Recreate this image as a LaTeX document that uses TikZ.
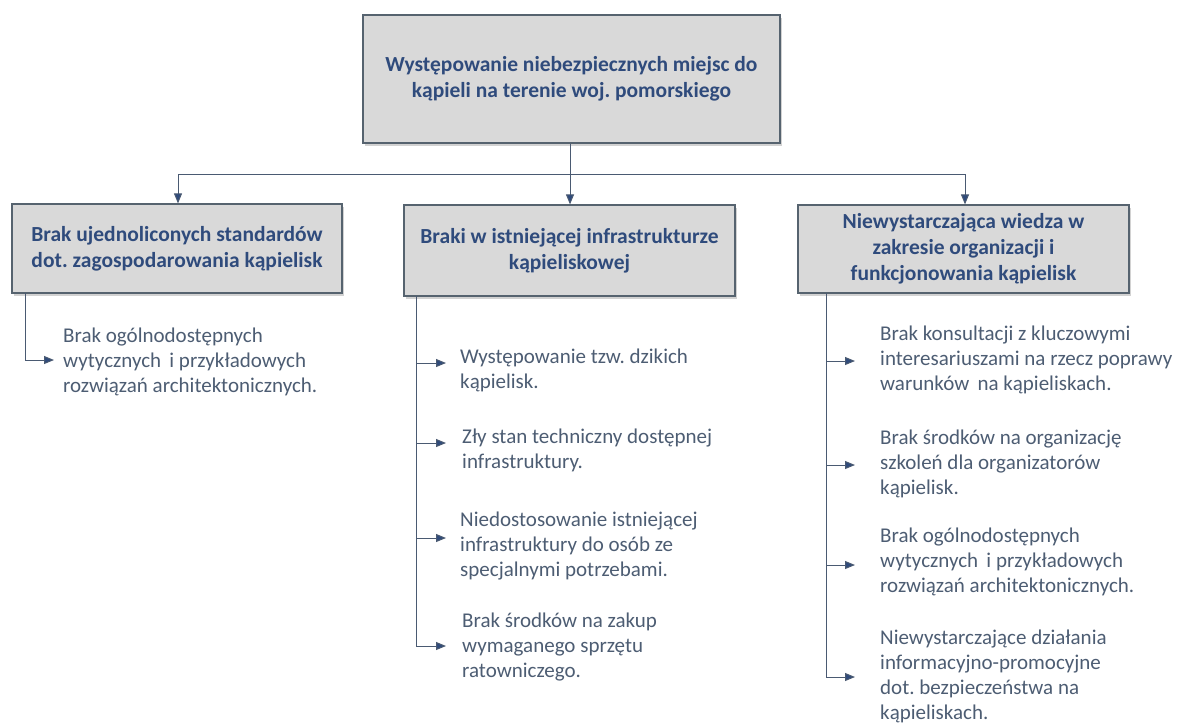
\documentclass[tikz,border=0pt]{standalone}
\usepackage{fontspec}
\setmainfont{Carlito}
\frenchspacing
\usetikzlibrary{arrows.meta,shadows,calc}
\definecolor{titleblue}{HTML}{2F4B7C}
\definecolor{bodytext}{HTML}{4D5D73}
\definecolor{linecol}{HTML}{4A5A72}
\definecolor{boxfill}{HTML}{D9D9D9}
\definecolor{boxborder}{HTML}{56636F}
\begin{document}
\begin{tikzpicture}[x=1pt,y=-1pt,
  box/.style={draw=boxborder,line width=1.2pt,fill=boxfill,
    drop shadow={opacity=0.35,shadow xshift=2pt,shadow yshift=-3pt},
    align=center,font=\fontsize{21.5}{26}\selectfont\bfseries,text=titleblue,inner sep=0pt},
  item/.style={anchor=west,align=left,font=\fontsize{21}{25}\selectfont,text=bodytext,inner sep=0pt},
  conn/.style={draw=linecol,line width=1pt},
  arr/.style={conn,-{Triangle[length=10pt,width=8pt,fill=titleblue]}}
]
\useasboundingbox[fill=white] (0,0) rectangle (1177,724);

% boxes
\node[box,minimum width=417pt,minimum height=128pt] (top) at (571.5,79)
  {Występowanie niebezpiecznych miejsc do\\kąpieli na terenie woj. pomorskiego};
\node[box,minimum width=330pt,minimum height=89pt] (b1) at (177,248.5)
  {Brak ujednoliconych standardów\\dot. zagospodarowania kąpielisk};
\node[box,minimum width=331pt,minimum height=91pt] (b2) at (569.5,250.5)
  {Braki w istniejącej infrastrukturze\\kąpieliskowej};
\node[box,minimum width=331pt,minimum height=88pt] (b3) at (963.5,249)
  {Niewystarczająca wiedza w\\zakresie organizacji i\\funkcjonowania kąpielisk};

% bus
\coordinate (busL) at (178,174);
\coordinate (busM) at (570,174);
\coordinate (busR) at (965,174);
\draw[conn] (busL) -- (busR);
\draw[conn] (top.south -| busM) -- (busM);
\draw[arr] (busL) -- (busL |- b1.north);
\draw[arr] (busM) -- (busM |- b2.north);
\draw[arr] (busR) -- (busR |- b3.north);

% left column
\node[item] (i11) at (63,362) {Brak ogólnodostępnych\\wytycznych\, i przykładowych\\rozwiązań architektonicznych.};
\coordinate (s1) at (25,293);
\coordinate (a11) at (54,360);
\draw[arr] (s1) |- (a11);

% middle column
\node[item] (i21) at (460,370) {Występowanie tzw. dzikich\\kąpielisk.};
\node[item] (i22) at (462,450) {Zły stan techniczny dostępnej\\infrastruktury.};
\node[item] (i23) at (460,546) {Niedostosowanie istniejącej\\infrastruktury do osób ze\\specjalnymi potrzebami.};
\node[item] (i24) at (462,647) {Brak środków na zakup\\wymaganego sprzętu\\ratowniczego.};
\coordinate (s2) at (416,296);
\coordinate (a21) at (446,363);
\coordinate (a22) at (446,443);
\coordinate (a23) at (446,538);
\coordinate (a24) at (446,646);
\draw[conn] (s2) -- (s2 |- a24);
\draw[arr] (s2 |- a21) -- (a21);
\draw[arr] (s2 |- a22) -- (a22);
\draw[arr] (s2 |- a23) -- (a23);
\draw[arr] (s2) |- (a24);

% right column
\node[item] (i31) at (880,360) {Brak konsultacji z kluczowymi\\interesariuszami na rzecz poprawy\\warunków\, na kąpieliskach.};
\node[item] (i32) at (880,464) {Brak środków na organizację\\szkoleń dla organizatorów\\kąpielisk.};
\node[item] (i33) at (880,562) {Brak ogólnodostępnych\\wytycznych\, i przykładowych\\rozwiązań architektonicznych.};
\node[item] (i34) at (880,676) {Niewystarczające działania\\informacyjno-promocyjne\\dot. bezpieczeństwa na\\kąpieliskach.};
\coordinate (s3) at (826,293);
\coordinate (a31) at (855,361);
\coordinate (a32) at (855,465);
\coordinate (a33) at (855,565);
\coordinate (a34) at (855,677);
\draw[conn] (s3) -- (s3 |- a34);
\draw[arr] (s3 |- a31) -- (a31);
\draw[arr] (s3 |- a32) -- (a32);
\draw[arr] (s3 |- a33) -- (a33);
\draw[arr] (s3) |- (a34);
\end{tikzpicture}
\end{document}
